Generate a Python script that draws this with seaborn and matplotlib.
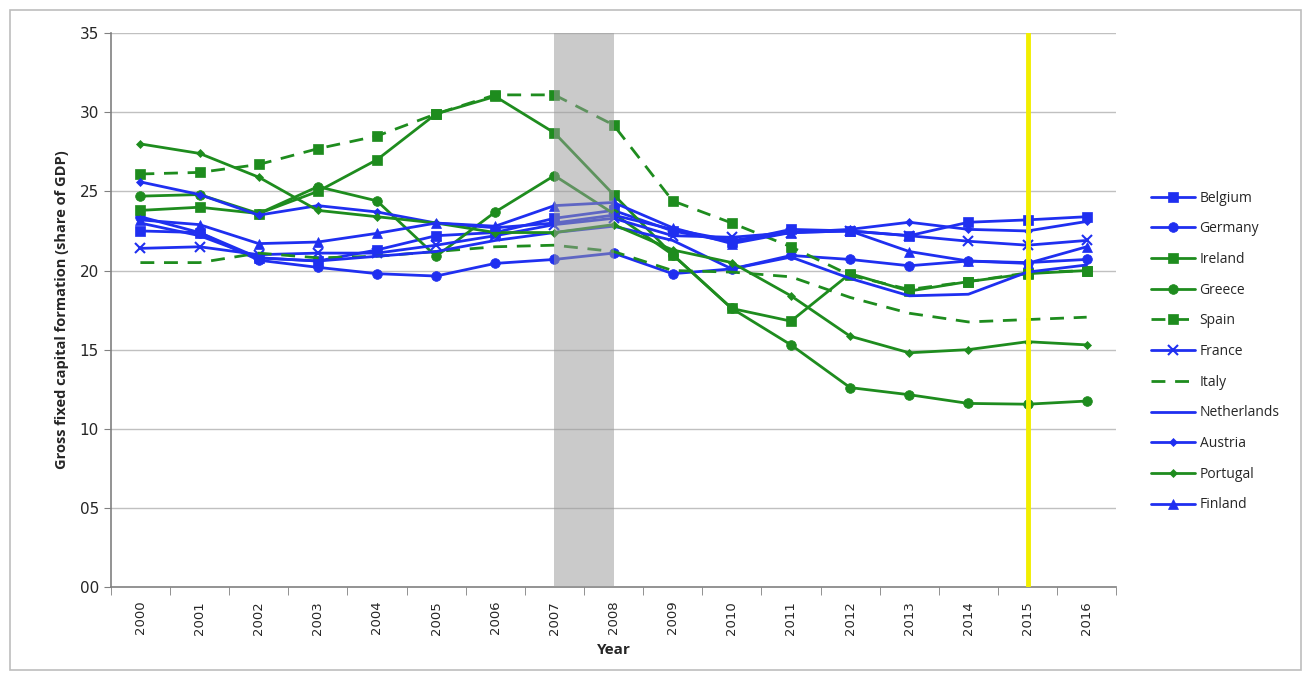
import numpy as np
import pandas as pd
import seaborn as sns
import matplotlib
matplotlib.use("Agg")
import matplotlib.pyplot as plt
from matplotlib.patches import Rectangle

years = list(range(2000, 2017))
year_labels = [str(y) for y in years]

belgium = [22.5, 22.4, 20.8, 20.6, 21.3, 22.2, 22.4, 23.3, 23.8, 22.5, 21.8, 22.6, 22.5, 22.2, 23.05, 23.2, 23.4]
germany = [23.4, 22.4, 20.65, 20.2, 19.8, 19.65, 20.45, 20.7, 21.1, 19.8, 20.1, 20.95, 20.7, 20.3, 20.6, 20.5, 20.7]
ireland = [23.8, 24.0, 23.6, 25.0, 27.0, 29.9, 31.0, 28.7, 24.8, 21.0, 17.6, 16.8, 19.8, 18.7, 19.3, 19.8, 20.0]
greece = [24.7, 24.8, 23.6, 25.3, 24.4, 20.9, 23.7, 26.0, 23.6, 21.0, 17.6, 15.3, 12.6, 12.15, 11.6, 11.55, 11.75]
spain = [26.1, 26.2, 26.7, 27.7, 28.5, 29.9, 31.1, 31.1, 29.2, 24.4, 23.0, 21.5, 19.7, 18.8, 19.3, 19.85, 20.0]
france = [21.4, 21.5, 21.0, 21.1, 21.1, 21.6, 22.2, 22.9, 23.3, 22.2, 22.1, 22.4, 22.5, 22.2, 21.85, 21.6, 21.9]
italy = [20.5, 20.5, 21.1, 20.8, 20.9, 21.2, 21.5, 21.6, 21.2, 20.0, 19.9, 19.6, 18.3, 17.3, 16.75, 16.9, 17.05]
netherlands = [23.0, 22.2, 20.8, 20.6, 20.9, 21.2, 21.9, 22.4, 22.8, 21.9, 20.1, 20.85, 19.5, 18.4, 18.5, 19.9, 20.35]
austria = [25.6, 24.8, 23.5, 24.1, 23.7, 23.0, 22.7, 23.0, 23.5, 22.6, 21.9, 22.4, 22.6, 23.05, 22.6, 22.5, 23.1]
portugal = [28.0, 27.4, 25.9, 23.8, 23.4, 23.0, 22.4, 22.4, 22.9, 21.3, 20.5, 18.4, 15.85, 14.8, 15.0, 15.5, 15.3]
finland = [23.2, 22.9, 21.7, 21.8, 22.35, 23.0, 22.8, 24.1, 24.3, 22.7, 21.7, 22.4, 22.5, 21.2, 20.6, 20.45, 21.5]

countries = ["Belgium", "Germany", "Ireland", "Greece", "Spain", "France",
             "Italy", "Netherlands", "Austria", "Portugal", "Finland"]
values = [belgium, germany, ireland, greece, spain, france,
          italy, netherlands, austria, portugal, finland]

y_ticks = [0, 5, 10, 15, 20, 25, 30, 35]
y_tick_labels = ["00", "05", "10", "15", "20", "25", "30", "35"]

BLUE = "#1f2ff0"
GREEN = "#1e8c1e"
styles = {
    "Belgium": dict(color=BLUE, marker="s", ms=7, ls="-"),
    "Germany": dict(color=BLUE, marker="o", ms=7, ls="-"),
    "Ireland": dict(color=GREEN, marker="s", ms=7, ls="-"),
    "Greece": dict(color=GREEN, marker="o", ms=7, ls="-"),
    "Spain": dict(color=GREEN, marker="s", ms=7, ls="--"),
    "France": dict(color=BLUE, marker="x", ms=7, ls="-"),
    "Italy": dict(color=GREEN, marker="", ms=0, ls="--"),
    "Netherlands": dict(color=BLUE, marker="", ms=0, ls="-"),
    "Austria": dict(color=BLUE, marker="D", ms=4.5, ls="-"),
    "Portugal": dict(color=GREEN, marker="D", ms=4.5, ls="-"),
    "Finland": dict(color=BLUE, marker="^", ms=7, ls="-"),
}

rows = []
for c, v in zip(countries, values):
    for i, val in enumerate(v):
        rows.append({"country": c, "idx": i, "year": years[i], "value": val})
df = pd.DataFrame(rows)

sns.set_style("white")
plt.rcParams["font.family"] = ["DejaVu Sans"]

fig = plt.figure(figsize=(13.04, 6.77), dpi=100)
fig.patches.append(Rectangle((0.008, 0.01), 0.99, 0.975, transform=fig.transFigure,
                             fill=False, edgecolor="#bdbdbd", lw=1.2, zorder=0))
ax = fig.add_axes([0.085, 0.133, 0.771, 0.818])

# crisis band drawn semi-transparently over the lines
ax.axvspan(7, 8, color="#9a9a9a", alpha=0.52, zorder=3.5, lw=0)
for yt in y_ticks[1:]:
    ax.axhline(yt, color="#c0c0c0", lw=1, zorder=0.4)

for c in countries:
    st = styles[c]
    sub = df[df["country"] == c]
    kw = dict(color=st["color"], lw=2, label=c, zorder=3)
    if st["marker"]:
        kw.update(marker=st["marker"], markersize=st["ms"],
                  markeredgecolor=st["color"], markerfacecolor=st["color"],
                  markeredgewidth=1.5 if st["marker"] == "x" else 0.5)
    if st["ls"] == "--":
        kw.update(dashes=(5, 3.5))
    sns.lineplot(data=sub, x="idx", y="value", ax=ax, **kw)

ax.axvline(15, color="#f2ee00", lw=3.5, zorder=4)

ax.set_xlim(-0.5, 16.5)
ax.set_ylim(0, 35)
ax.set_xticks(range(len(years)))
ax.set_xticklabels(year_labels, rotation=90, fontsize=9.5)
ax.set_xticks(np.arange(-0.5, 16.6, 1), minor=True)
ax.tick_params(axis="x", which="major", length=0, pad=10)
ax.tick_params(axis="x", which="minor", length=6, direction="out", color="#808080", bottom=True)
ax.set_yticks(y_ticks)
ax.set_yticklabels(y_tick_labels, fontsize=11)
ax.tick_params(axis="y", length=5, direction="out", color="#808080", left=True)
for s in ["top", "right"]:
    ax.spines[s].set_visible(False)
for s in ["left", "bottom"]:
    ax.spines[s].set_color("#808080")
    ax.spines[s].set_linewidth(1.2)

ax.set_xlabel("Year", fontsize=11, fontweight="bold", family=["Open Sans", "DejaVu Sans"], labelpad=6)
ax.set_ylabel("Gross fixed capital formation (share of GDP)", fontsize=10.5, fontweight="bold",
              family=["Open Sans", "DejaVu Sans"], labelpad=8)

handles, labels = ax.get_legend_handles_labels()
ax.legend(handles, labels, loc="upper left", bbox_to_anchor=(0.873, 0.737),
          bbox_transform=fig.transFigure, frameon=False,
          prop={"family": ["Open Sans", "DejaVu Sans"], "size": 10},
          handlelength=3.2, labelspacing=1.13, handletextpad=0.3)

fig.savefig("out.png", dpi=100)
